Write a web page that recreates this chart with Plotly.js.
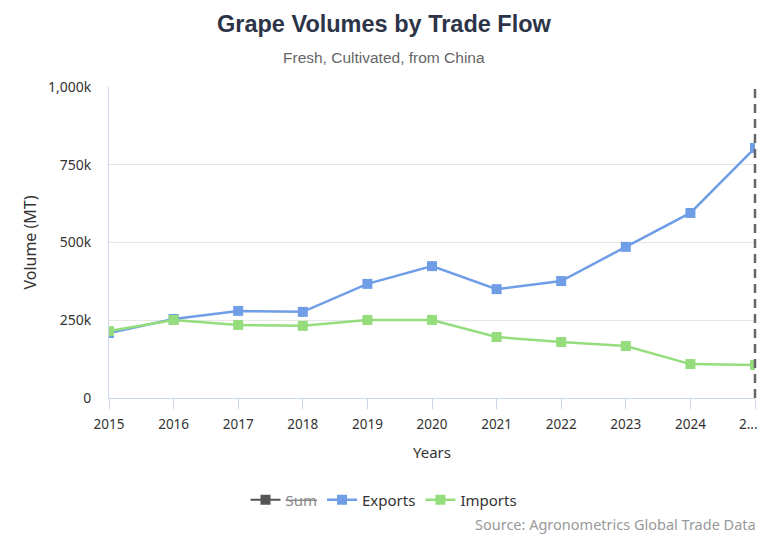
<!DOCTYPE html>
<html>
<head>
<meta charset="utf-8">
<script src="https://cdn.plot.ly/plotly-3.0.1.min.js"></script>
<style>
  html, body { margin: 0; padding: 0; background: #ffffff; }
  #chart { width: 768px; height: 538px; }
  /* keep the hidden series' legend entry at full strength */
  #chart .legend .traces { opacity: 1 !important; }
</style>
</head>
<body>
<div id="chart"></div>
<script>
// Grape trade volumes (metric tonnes, thousands)
const years = ['2015', '2016', '2017', '2018', '2019', '2020', '2021', '2022', '2023', '2024', '2025'];
const yearLabels = ['2015', '2016', '2017', '2018', '2019', '2020', '2021', '2022', '2023', '2024', '2...'];
const exportsK = [209, 254, 280, 277, 367, 424, 350, 376, 486, 595, 804];
const importsK = [215, 251, 235, 232, 251, 251, 196, 180, 167, 109, 106];
const sumK = [424, 505, 515, 509, 618, 675, 546, 556, 653, 704, 910];
const yTickVals = [0, 250, 500, 750, 1000];
const yTickText = ['0', '250k', '500k', '750k', '1,000k'];

const baseFont = 'Noto Sans, Open Sans, sans-serif';
const headFont = "'Liberation Sans', Arial, sans-serif";

const W = 768, ML = 109, MR = 13;
// paper-x position that sits at the horizontal centre of the whole figure
const centreX = (W / 2 - ML) / (W - ML - MR);
// category index of the latest year (category axes position by index)
const last = years.length - 1;

const traces = [
  {
    name: '<span style="color:#8a8a8a"><s>Sum</s></span>',
    x: years, y: sumK,
    type: 'scatter', mode: 'lines+markers',
    visible: 'legendonly',
    line: { color: '#555555', width: 2 },
    marker: { symbol: 'square', size: 10, color: '#555555' }
  },
  {
    name: 'Exports',
    x: years, y: exportsK,
    type: 'scatter', mode: 'lines+markers',
    line: { color: '#6f9de6', width: 2.5 },
    marker: { symbol: 'square', size: 10, color: '#6f9de6' }
  },
  {
    name: 'Imports',
    x: years, y: importsK,
    type: 'scatter', mode: 'lines+markers',
    line: { color: '#95dc7d', width: 2.5 },
    marker: { symbol: 'square', size: 10, color: '#95dc7d' }
  }
];

// the final, truncated year label is pulled inside the figure edge
const xTickText = yearLabels.map((t, i) => (i === last ? '' : t));

const layout = {
  width: W, height: 538,
  margin: { l: ML, r: MR, t: 87, b: 140 },
  paper_bgcolor: '#ffffff', plot_bgcolor: '#ffffff',
  font: { family: baseFont, color: '#333333', size: 13 },
  showlegend: true,
  hovermode: false,
  xaxis: {
    type: 'category',
    range: [0, last],
    tickvals: years, ticktext: xTickText,
    tickangle: 0,
    showgrid: false, zeroline: false,
    showline: true, linecolor: '#ccd6eb', linewidth: 1,
    ticks: 'outside', ticklen: 10, tickcolor: '#ccd6eb',
    ticklabelstandoff: 4,
    tickfont: { size: 13.5, color: '#333333' },
    title: { text: 'Years', font: { size: 15, color: '#333333' }, standoff: 15 }
  },
  yaxis: {
    range: [0, 1000],
    tickvals: yTickVals, ticktext: yTickText,
    showgrid: true, gridcolor: '#e6e6e6', gridwidth: 1,
    zeroline: false,
    showline: true, linecolor: '#ccd6eb', linewidth: 1,
    ticks: '', ticklabelstandoff: 14,
    tickfont: { size: 14, color: '#333333' },
    title: { text: 'Volume (MT)', font: { size: 16, color: '#333333' }, standoff: 7 }
  },
  shapes: [
    {
      // marker line at the latest year, which is the right end of the x range;
      // drawn in paper space so it is not clipped at the plot edge
      type: 'line', xref: 'paper', yref: 'paper',
      x0: 1, x1: 1, y0: 0, y1: 1,
      line: { color: '#666666', width: 2.5, dash: '9px,6px' }
    }
  ],
  legend: {
    orientation: 'h',
    x: centreX, xanchor: 'center',
    y: -0.275, yanchor: 'top',
    font: { size: 15, color: '#333333' }
  },
  annotations: [
    {
      text: yearLabels[last],
      xref: 'x', yref: 'paper', x: last, y: 0, xanchor: 'center', yanchor: 'top',
      xshift: -7, yshift: -15, showarrow: false,
      font: { family: baseFont, size: 13.5, color: '#333333' }
    },
    {
      text: '<b>Grape Volumes by Trade Flow</b>',
      xref: 'paper', yref: 'paper', x: centreX, y: 1, xanchor: 'center', yanchor: 'bottom',
      yshift: 48, showarrow: false,
      font: { family: headFont, size: 23.5, color: '#2d3447' }
    },
    {
      text: 'Fresh, Cultivated, from China',
      xref: 'paper', yref: 'paper', x: centreX, y: 1, xanchor: 'center', yanchor: 'bottom',
      yshift: 19, showarrow: false,
      font: { family: headFont, size: 15.5, color: '#666666' }
    },
    {
      text: 'Source: Agronometrics Global Trade Data',
      xref: 'paper', yref: 'paper', x: 1.005, y: 0, xanchor: 'right', yanchor: 'top',
      yshift: -114, showarrow: false,
      font: { family: baseFont, size: 14.5, color: '#999999' }
    }
  ]
};

Plotly.newPlot('chart', traces, layout, { displayModeBar: false, staticPlot: true });
</script>
</body>
</html>
